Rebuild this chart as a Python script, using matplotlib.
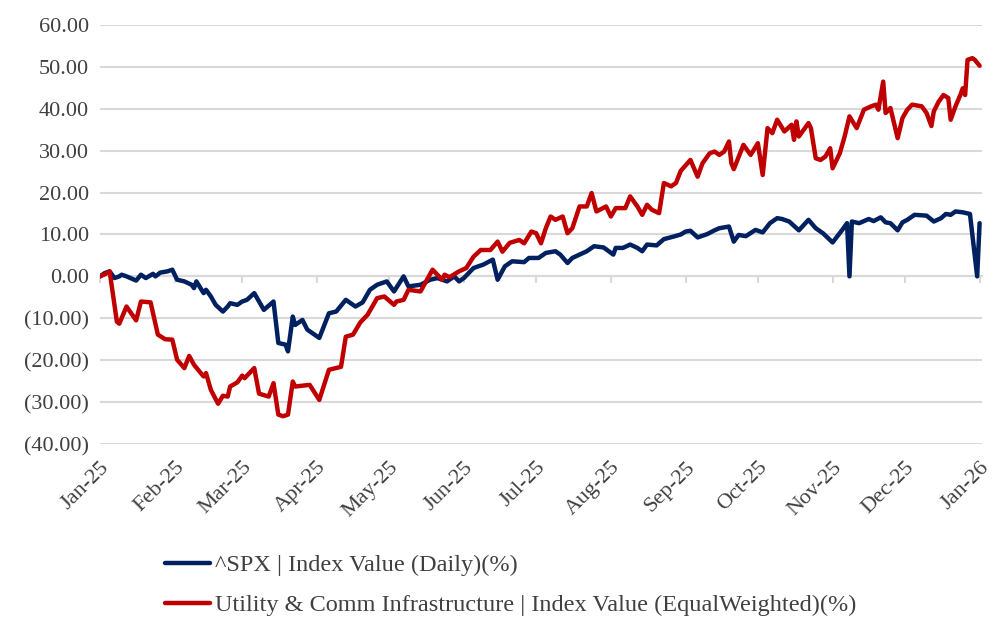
import matplotlib
matplotlib.use('Agg')
import matplotlib.pyplot as plt
import pandas as pd
from matplotlib.ticker import FuncFormatter, MultipleLocator

plt.rcParams['font.family'] = ['Liberation Serif', 'DejaVu Serif']

spx_label = '^SPX | Index Value (Daily)(%)'
util_label = 'Utility & Comm Infrastructure | Index Value (EqualWeighted)(%)'

spx_dates = ['2025-01-01','2025-01-03','2025-01-05','2025-01-07','2025-01-09','2025-01-10','2025-01-12','2025-01-16',
             '2025-01-18','2025-01-20','2025-01-23','2025-01-24','2025-01-26','2025-01-29','2025-01-31','2025-02-02',
             '2025-02-05','2025-02-08','2025-02-09','2025-02-10','2025-02-13','2025-02-14','2025-02-16','2025-02-18',
             '2025-02-21','2025-02-23','2025-02-24','2025-02-27','2025-03-01','2025-03-03','2025-03-06','2025-03-10',
             '2025-03-14','2025-03-16','2025-03-19','2025-03-20','2025-03-22','2025-03-23','2025-03-26','2025-03-28',
             '2025-04-02','2025-04-06','2025-04-09','2025-04-13','2025-04-17','2025-04-20','2025-04-23','2025-04-26',
             '2025-04-30','2025-05-03','2025-05-07','2025-05-09','2025-05-14','2025-05-18','2025-05-21','2025-05-25',
             '2025-05-28','2025-05-30','2025-06-01','2025-06-05','2025-06-09','2025-06-13','2025-06-15','2025-06-18',
             '2025-06-21','2025-06-26','2025-06-28','2025-07-02','2025-07-05','2025-07-09','2025-07-11','2025-07-14',
             '2025-07-16','2025-07-19','2025-07-22','2025-07-25','2025-07-29','2025-08-02','2025-08-03','2025-08-06',
             '2025-08-09','2025-08-12','2025-08-14','2025-08-16','2025-08-20','2025-08-23','2025-08-27','2025-08-30',
             '2025-09-01','2025-09-03','2025-09-06','2025-09-10','2025-09-13','2025-09-15','2025-09-19','2025-09-21',
             '2025-09-23','2025-09-26','2025-09-30','2025-10-03','2025-10-06','2025-10-09','2025-10-11','2025-10-14',
             '2025-10-18','2025-10-22','2025-10-25','2025-10-28','2025-11-01','2025-11-05','2025-11-07','2025-11-08',
             '2025-11-09','2025-11-12','2025-11-16','2025-11-18','2025-11-21','2025-11-23','2025-11-25','2025-11-28',
             '2025-11-30','2025-12-02','2025-12-05','2025-12-10','2025-12-13','2025-12-16','2025-12-18','2025-12-20',
             '2025-12-22','2025-12-25','2025-12-28','2025-12-31','2026-01-01']
spx_values = [0, 0.8, 1.2, -0.4, 0, 0.4, 0, -1.0,
              0.4, -0.4, 0.6, 0, 0.9, 1.2, 1.6, -0.8,
              -1.2, -2.0, -2.8, -1.2, -4.0, -3.2, -4.8, -6.8,
              -8.4, -7.2, -6.4, -6.8, -6.0, -5.6, -4.0, -8.0,
              -6.0, -15.9, -16.3, -17.9, -9.6, -11.6, -10.4, -12.7,
              -14.7, -8.8, -8.4, -5.6, -7.2, -6.2, -3.2, -2.0,
              -1.2, -3.6, 0, -2.4, -2.0, -0.8, -0.4, -1.2,
              0, -1.2, -0.4, 2.0, 2.8, 4.0, -0.8, 2.4,
              3.6, 3.4, 4.4, 4.4, 5.6, 6.0, 5.2, 3.2,
              4.4, 5.2, 6.0, 7.2, 6.9, 5.2, 6.8, 6.8,
              7.6, 6.8, 6.0, 7.6, 7.4, 8.9, 9.5, 10.0,
              10.7, 10.9, 9.3, 10.1, 11.0, 11.5, 11.9, 8.3,
              9.9, 9.6, 11.1, 10.5, 12.7, 13.9, 13.7, 13.1,
              11.0, 13.5, 11.5, 10.3, 8.1, 11.1, 12.7, 0,
              13.1, 12.7, 13.7, 13.2, 14.1, 12.9, 12.7, 11.0,
              12.9, 13.5, 14.7, 14.5, 13.1, 13.9, 14.9, 14.7,
              15.5, 15.3, 14.9, 0, 12.7]

util_dates = ['2025-01-01','2025-01-03','2025-01-05','2025-01-08','2025-01-09','2025-01-12','2025-01-16','2025-01-18',
              '2025-01-22','2025-01-25','2025-01-28','2025-01-31','2025-02-02','2025-02-05','2025-02-07','2025-02-09',
              '2025-02-13','2025-02-14','2025-02-16','2025-02-19','2025-02-21','2025-02-23','2025-02-24','2025-02-27',
              '2025-03-01','2025-03-02','2025-03-06','2025-03-08','2025-03-12','2025-03-14','2025-03-16','2025-03-18',
              '2025-03-20','2025-03-22','2025-03-23','2025-03-26','2025-03-29','2025-04-02','2025-04-06','2025-04-11',
              '2025-04-13','2025-04-16','2025-04-19','2025-04-22','2025-04-26','2025-04-29','2025-05-03','2025-05-04',
              '2025-05-07','2025-05-09','2025-05-14','2025-05-19','2025-05-21','2025-05-23','2025-05-24','2025-05-26',
              '2025-05-30','2025-06-02','2025-06-05','2025-06-08','2025-06-12','2025-06-15','2025-06-17','2025-06-20',
              '2025-06-24','2025-06-26','2025-06-29','2025-07-01','2025-07-03','2025-07-05','2025-07-07','2025-07-09',
              '2025-07-12','2025-07-14','2025-07-16','2025-07-19','2025-07-22','2025-07-24','2025-07-26','2025-07-30',
              '2025-08-01','2025-08-03','2025-08-07','2025-08-09','2025-08-12','2025-08-14','2025-08-16','2025-08-18',
              '2025-08-21','2025-08-23','2025-08-26','2025-08-28','2025-08-30','2025-09-03','2025-09-06','2025-09-08',
              '2025-09-11','2025-09-13','2025-09-15','2025-09-17','2025-09-19','2025-09-20','2025-09-21','2025-09-25',
              '2025-09-28','2025-10-01','2025-10-03','2025-10-05','2025-10-07','2025-10-09','2025-10-12','2025-10-15',
              '2025-10-16','2025-10-17','2025-10-18','2025-10-22','2025-10-23','2025-10-25','2025-10-27','2025-10-29',
              '2025-10-31','2025-11-01','2025-11-04','2025-11-06','2025-11-08','2025-11-11','2025-11-14','2025-11-17',
              '2025-11-19','2025-11-20','2025-11-22','2025-11-23','2025-11-25','2025-11-28','2025-11-30','2025-12-02',
              '2025-12-04','2025-12-08','2025-12-10','2025-12-12','2025-12-13','2025-12-15','2025-12-17','2025-12-19',
              '2025-12-20','2025-12-22','2025-12-24','2025-12-25','2025-12-26','2025-12-27','2025-12-29','2025-12-30',
              '2026-01-01']
util_values = [0, 0.5, 1.2, -10.8, -11.3, -7.2, -10.5, -6.0,
               -6.2, -13.9, -15.0, -15.1, -19.9, -21.9, -19.0, -21.1,
               -23.9, -23.1, -27.1, -30.4, -28.5, -28.7, -26.3, -25.3,
               -23.7, -24.3, -21.9, -28.0, -28.7, -25.5, -33.0, -33.4,
               -33.0, -25.1, -26.3, -26.1, -25.9, -29.5, -22.3, -21.6,
               -14.4, -13.9, -11.0, -9.2, -5.2, -4.8, -6.8, -6.0,
               -5.6, -3.2, -3.6, 1.6, 0.4, -0.8, 0.4, -0.2,
               1.2, 2.0, 4.7, 6.3, 6.3, 8.3, 5.9, 8.0,
               8.7, 7.9, 10.7, 10.3, 7.9, 11.5, 14.3, 13.5,
               14.3, 10.3, 11.5, 16.7, 16.7, 19.9, 15.5, 16.7,
               14.3, 16.3, 16.3, 19.1, 16.7, 14.7, 17.1, 15.9,
               15.1, 22.3, 21.5, 22.3, 25.2, 27.8, 23.8, 27.0,
               29.4, 29.8, 29.0, 29.8, 32.2, 27.0, 25.6, 31.4,
               29.0, 31.8, 24.2, 35.4, 34.2, 37.4, 34.6, 36.2,
               32.6, 37.0, 33.4, 36.6, 35.4, 28.2, 27.8, 28.6,
               30.6, 25.8, 29.4, 33.4, 38.2, 35.4, 39.8, 40.6,
               41.0, 39.8, 46.5, 39.0, 40.2, 33.0, 37.8, 39.8,
               41.0, 40.6, 39.0, 35.9, 39.4, 41.7, 43.3, 42.6,
               37.4, 40.6, 43.3, 44.9, 43.3, 51.7, 52.1, 51.7,
               50.3]

tick_dates = ['2025-01-01','2025-02-01','2025-03-01','2025-04-01','2025-05-01','2025-06-01','2025-07-01',
              '2025-08-01','2025-09-01','2025-10-01','2025-11-01','2025-12-01','2026-01-01']
tick_labels = ['Jan-25','Feb-25','Mar-25','Apr-25','May-25','Jun-25','Jul-25',
               'Aug-25','Sep-25','Oct-25','Nov-25','Dec-25','Jan-26']

text_color = '#404040'
grid_color = '#d9d9d9'
blue = '#002060'
red = '#C00000'
fs = 16
legend_fs = 17.5

fig = plt.figure(figsize=(10, 6.27), dpi=100)
ax = fig.add_axes([0.100, 0.292, 0.882, 0.668])

ax.plot(pd.to_datetime(spx_dates), spx_values, color=blue, lw=3.2, label=spx_label,
        solid_joinstyle='round', solid_capstyle='round')
ax.plot(pd.to_datetime(util_dates), util_values, color=red, lw=3.2, label=util_label,
        solid_joinstyle='round', solid_capstyle='round')

ax.set_ylim(-40, 60)
ax.set_xlim(pd.Timestamp('2025-01-01'), pd.Timestamp('2026-01-02'))
ax.yaxis.set_major_locator(MultipleLocator(10))
ax.yaxis.set_major_formatter(FuncFormatter(lambda v, p: f'{v:.2f}' if v >= 0 else f'({-v:.2f})'))
ax.grid(axis='y', color=grid_color, lw=1.5)
ax.set_axisbelow(True)
for s in ax.spines.values():
    s.set_visible(False)

tk = pd.to_datetime(tick_dates)
ax.set_xticks(tk)
ax.set_xticklabels(tick_labels, rotation=45, ha='right', rotation_mode='anchor')
ax.tick_params(axis='x', length=0, pad=10, labelsize=fs, labelcolor=text_color)
ax.tick_params(axis='y', length=0, pad=8, labelsize=fs, labelcolor=text_color)

sec = ax.secondary_xaxis(0.4)
sec.set_xticks(tk)
sec.set_xticklabels([''] * len(tk))
sec.tick_params(axis='x', direction='out', length=5, width=1.5, color=grid_color)
sec.spines['bottom'].set_color(grid_color)
sec.spines['bottom'].set_linewidth(1.5)

leg = fig.legend(loc='upper left', bbox_to_anchor=(0.165, 0.1164), frameon=False, fontsize=legend_fs,
                 handlelength=1.85, handletextpad=0.2, labelspacing=0.75, borderpad=0, borderaxespad=0)
for t in leg.get_texts():
    t.set_color(text_color)

fig.savefig('out.png', dpi=100)
